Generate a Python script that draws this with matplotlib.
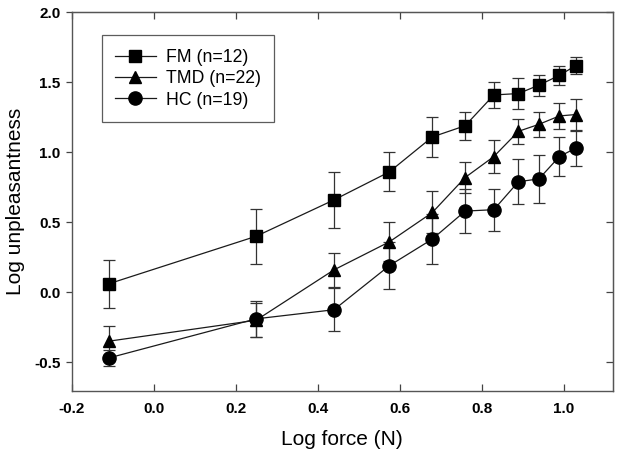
import matplotlib
matplotlib.use("Agg")
import matplotlib.pyplot as plt
from matplotlib.ticker import FixedLocator, FixedFormatter, NullFormatter

plt.rcParams['font.family'] = ['Liberation Sans', 'DejaVu Sans']
plt.rcParams['axes.unicode_minus'] = False

log_force = [-0.11, 0.25, 0.44, 0.575, 0.68, 0.76, 0.83, 0.89, 0.94, 0.99, 1.03]

fm = [0.06, 0.40, 0.66, 0.86, 1.11, 1.19, 1.41, 1.42, 1.48, 1.55, 1.62]
fm_err = [0.17, 0.195, 0.20, 0.14, 0.145, 0.10, 0.09, 0.11, 0.075, 0.067, 0.06]

tmd = [-0.35, -0.20, 0.16, 0.36, 0.57, 0.82, 0.97, 1.15, 1.20, 1.26, 1.27]
tmd_err = [0.11, 0.12, 0.12, 0.14, 0.15, 0.11, 0.12, 0.09, 0.09, 0.09, 0.11]

hc = [-0.47, -0.19, -0.125, 0.19, 0.38, 0.58, 0.59, 0.79, 0.81, 0.97, 1.03]
hc_err = [0.06, 0.13, 0.155, 0.17, 0.18, 0.155, 0.15, 0.16, 0.17, 0.14, 0.125]

labels = ['FM (n=12)', 'TMD (n=22)', 'HC (n=19)']
markers = ['s', '^', 'o']
msizes = [8.5, 9.0, 9.5]

xticks = [-0.2, 0.0, 0.2, 0.4, 0.6, 0.8, 1.0]
xticklabels = ['-0.2', '0.0', '0.2', '0.4', '0.6', '0.8', '1.0']
yticks = [-0.5, 0.0, 0.5, 1.0, 1.5, 2.0]
yticklabels = ['-0.5', '0.0', '0.5', '1.0', '1.5', '2.0']

fig = plt.figure(figsize=(6.2, 4.59), dpi=100)
ax = fig.add_axes([0.1157, 0.149, 0.8725, 0.824])

handles = []
for y, e, lab, m, ms in zip([fm, tmd, hc], [fm_err, tmd_err, hc_err], labels, markers, msizes):
    cont = ax.errorbar(log_force, y, yerr=e, fmt='-', marker=m, ms=ms, color='#1a1a1a',
                       mfc='black', mec='black', lw=0.9, elinewidth=0.9, ecolor='#333333',
                       capsize=4.2, capthick=0.9, label=lab)
    handles.append(cont[0])

ax.set_xlim(-0.2, 1.12)
ax.set_ylim(-0.703, 2.0)
ax.xaxis.set_major_locator(FixedLocator(xticks))
ax.xaxis.set_major_formatter(FixedFormatter(xticklabels))
ax.yaxis.set_major_locator(FixedLocator(yticks))
ax.yaxis.set_major_formatter(FixedFormatter(yticklabels))
ax.tick_params(axis='x', direction='in', length=5, width=0.9, color='#444444',
               labelsize=11, pad=8)
ax.tick_params(axis='y', direction='out', length=4, width=0.9, color='#444444',
               labelsize=11, pad=4)
for lbl in ax.get_xticklabels() + ax.get_yticklabels():
    lbl.set_fontweight('bold')
for s in ax.spines.values():
    s.set_color('#555555')
    s.set_linewidth(1.0)

top = ax.secondary_xaxis('top')
top.xaxis.set_major_locator(FixedLocator(xticks))
top.xaxis.set_major_formatter(NullFormatter())
top.tick_params(direction='in', length=5, width=0.9, color='#444444')
top.spines['top'].set_color('#555555')

right = ax.secondary_yaxis('right')
right.yaxis.set_major_locator(FixedLocator(yticks))
right.yaxis.set_major_formatter(NullFormatter())
right.tick_params(direction='in', length=5, width=0.9, color='#444444')
right.spines['right'].set_color('#555555')

ax.set_xlabel('Log force (N)', fontsize=15, labelpad=10)
ax.set_ylabel('Log unpleasantness', fontsize=15, labelpad=7)

leg = ax.legend(handles, labels, loc='upper left', bbox_to_anchor=(0.0555, 0.939),
                borderaxespad=0, fontsize=12.7, fancybox=False, frameon=True,
                edgecolor='#333333', handlelength=2.3, handletextpad=0.6,
                borderpad=0.75, labelspacing=0.25, numpoints=1)
leg.get_frame().set_linewidth(0.9)

fig.savefig('out.png', dpi=100)
